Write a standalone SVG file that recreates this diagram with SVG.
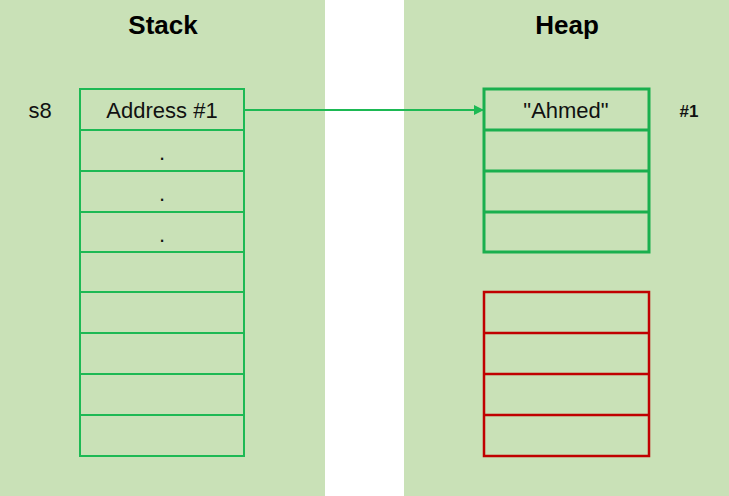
<svg xmlns="http://www.w3.org/2000/svg" width="729" height="496" viewBox="0 0 729 496">
<style>
.bg{fill:#c9e1b7}
.g{fill:none;stroke:#1db954;stroke-width:2}
.g2{fill:none;stroke:#1aaf4e;stroke-width:3}
.r{fill:none;stroke:#c00000;stroke-width:2.5}
.t{font-family:"Liberation Sans",Arial,sans-serif;font-size:22px;fill:#111}
.h{font-family:"Liberation Sans",Arial,sans-serif;font-size:26px;font-weight:bold;fill:#000}
</style>
<defs><marker id="a" markerWidth="10" markerHeight="10" refX="9" refY="5" orient="auto" markerUnits="userSpaceOnUse"><path d="M0,0 L10,5 L0,10z" fill="#1db954"/></marker></defs>
<rect class="bg" x="0" y="0" width="325" height="496"/>
<rect class="bg" x="404" y="0" width="325" height="496"/>
<text class="h" x="163" y="34" text-anchor="middle">Stack</text>
<text class="h" x="567" y="34" text-anchor="middle">Heap</text>
<g id="stack">
<rect class="g" x="80" y="89" width="164" height="367"/>
<path class="g" d="M80 130H244M80 171H244M80 212H244M80 252H244M80 292H244M80 333H244M80 374H244M80 415H244"/>
<text class="t" x="40" y="118" text-anchor="middle">s8</text>
<text class="t" x="162" y="118" text-anchor="middle">Address #1</text>
<text class="t" x="162" y="160" text-anchor="middle">.</text>
<text class="t" x="162" y="201" text-anchor="middle">.</text>
<text class="t" x="162" y="242" text-anchor="middle">.</text>
</g>
<g id="heap1">
<rect class="g2" x="484" y="89" width="165" height="163"/>
<path class="g2" d="M484 130H649M484 171H649M484 212H649"/>
<text class="t" x="566" y="118" text-anchor="middle">"Ahmed"</text>
<text class="t" x="689" y="117" text-anchor="middle" style="font-size:17px;font-weight:bold">#1</text>
</g>
<g id="heap2">
<rect class="r" x="484" y="292" width="165" height="164"/>
<path class="r" d="M484 333H649M484 374H649M484 415H649"/>
</g>
<g id="connectors">
<line x1="244" y1="110" x2="483" y2="110" stroke="#1db954" stroke-width="2" marker-end="url(#a)"/>
</g>
</svg>
